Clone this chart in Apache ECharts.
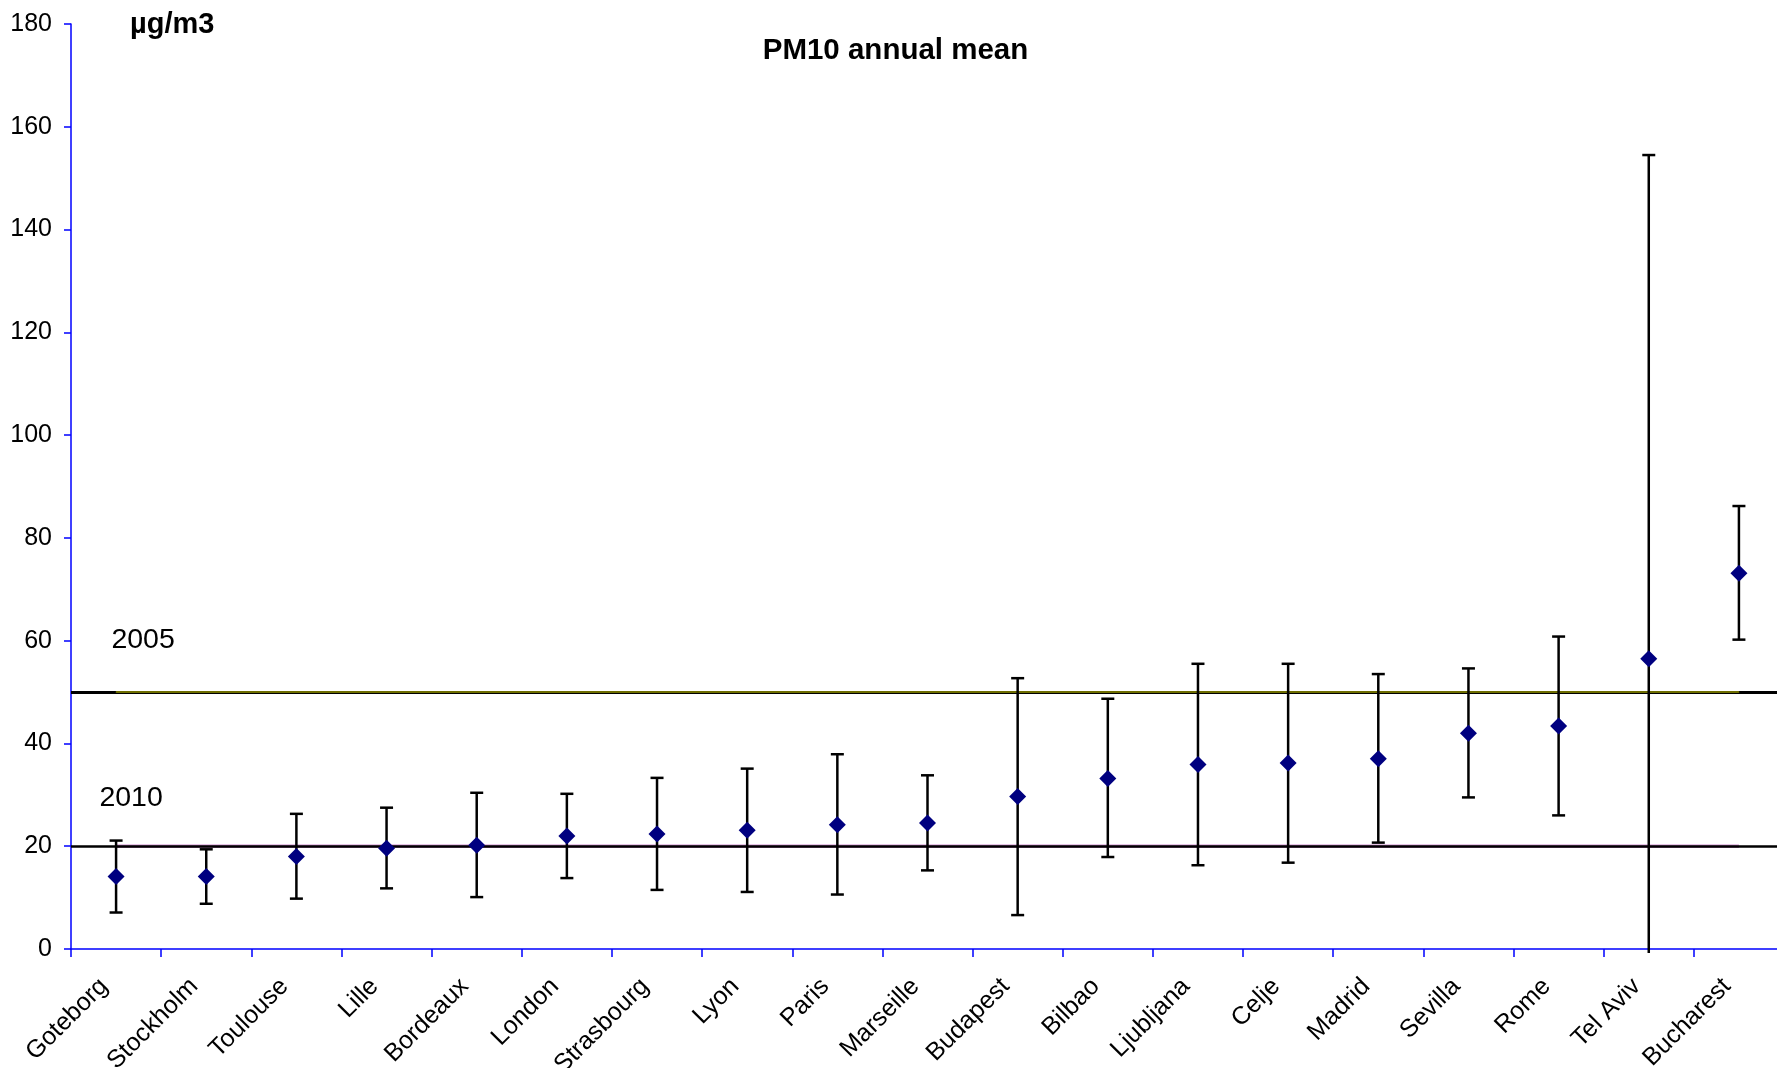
<!DOCTYPE html>
<html>
<head>
<meta charset="utf-8">
<script src="https://cdn.jsdelivr.net/npm/echarts@6/dist/echarts.min.js"></script>
<style>
  html, body { margin: 0; padding: 0; background: #ffffff; overflow: hidden; }
  #chart { width: 1777px; height: 1068px; }
</style>
</head>
<body>
<div id="chart"></div>
<script>
// PM10 annual mean per city (µg/m3): mean with min / max across stations
const cities = ['Goteborg', 'Stockholm', 'Toulouse', 'Lille', 'Bordeaux', 'London', 'Strasbourg',
  'Lyon', 'Paris', 'Marseille', 'Budapest', 'Bilbao', 'Ljubljana', 'Celje', 'Madrid',
  'Sevilla', 'Rome', 'Tel Aviv', 'Bucharest'];
const means = [14.1, 14.1, 18.0, 19.6, 20.2, 22.0, 22.4, 23.1, 24.2, 24.5, 29.7, 33.2, 35.9, 36.2, 37.0, 42.0, 43.4, 56.5, 73.1];
const lows  = [7.1, 8.8, 9.8, 11.8, 10.1, 13.8, 11.5, 11.1, 10.6, 15.3, 6.6, 17.9, 16.3, 16.8, 20.7, 29.5, 26.0, -0.8, 60.2];
const highs = [21.1, 19.4, 26.3, 27.5, 30.4, 30.2, 33.3, 35.1, 37.9, 33.8, 52.7, 48.7, 55.5, 55.5, 53.5, 54.6, 60.8, 154.5, 86.2];

// EU limit values
const limit2005 = 50;
const limit2010 = 20;

// value axis
const yMin = 0, yMax = 180, yStep = 20;

const FONT = "'Liberation Sans', Arial, sans-serif";

const errorData = cities.map((c, i) => [i, lows[i], highs[i]]);

// limit line drawn between the first and last city, with its year written above the left end
function limitSeries(value, label, color, width, z, labelOffset, labelDist) {
  return {
    type: 'line',
    name: label,
    z: z,
    silent: true,
    symbol: 'circle',
    symbolSize: 1,
    showSymbol: true,
    itemStyle: { color: color },
    lineStyle: { color: color, width: width },
    animation: false,
    data: cities.map((c, i) => i === 0 ? {
      value: value,
      label: {
        show: true, formatter: label, position: 'top',
        distance: labelDist, offset: labelOffset,
        color: '#000', fontFamily: FONT, fontSize: 28.5, lineHeight: 28.5
      }
    } : value)
  };
}

// black rule across the whole plot width
function baseLine(value, width, z) {
  return {
    type: 'line',
    z: z,
    silent: true,
    data: [],
    animation: false,
    markLine: {
      z: z,
      silent: true,
      symbol: ['none', 'none'],
      label: { show: false },
      animation: false,
      lineStyle: { color: '#000', width: width, type: 'solid' },
      data: [{ yAxis: value }]
    }
  };
}

const chart = echarts.init(document.getElementById('chart'), null, { renderer: 'canvas' });

chart.setOption({
  backgroundColor: '#ffffff',
  animation: false,
  title: [
    {
      text: 'PM10 annual mean', left: 895.5, top: 36, textAlign: 'center', padding: 0,
      textStyle: { fontFamily: FONT, fontWeight: 'bold', fontSize: 29.5, color: '#000', lineHeight: 30 }
    },
    {
      text: 'µg/m3', left: 130, top: 10, padding: 0,
      textStyle: { fontFamily: FONT, fontWeight: 'bold', fontSize: 29, color: '#000', lineHeight: 30 }
    }
  ],
  // the plot area runs a little past the right edge of the page
  grid: { left: 71, top: 24, width: 1713, height: 925, containLabel: false, outerBoundsMode: 'none' },
  xAxis: {
    type: 'category',
    data: cities,
    boundaryGap: true,
    axisLine: { show: true, lineStyle: { color: '#0000ff', width: 1.5 } },
    axisTick: { show: true, length: 8, inside: false, alignWithLabel: false, lineStyle: { color: '#0000ff', width: 1.5 } },
    axisLabel: {
      interval: 0, rotate: 45, margin: 21.5, padding: [0, 17, 0, 0],
      color: '#000', fontFamily: FONT, fontSize: 25
    },
    splitLine: { show: false }
  },
  yAxis: {
    type: 'value',
    min: yMin, max: yMax, interval: yStep,
    axisLine: { show: true, lineStyle: { color: '#0000ff', width: 1.5 } },
    axisTick: { show: true, length: 7, inside: false, lineStyle: { color: '#0000ff', width: 1.5 } },
    axisLabel: { margin: 19, color: '#000', fontFamily: FONT, fontSize: 25 },
    splitLine: { show: false }
  },
  series: [
    baseLine(limit2005, 3, 1),
    limitSeries(limit2005, '2005', '#6e6e00', 2, 2, [27, 0], 37.6),
    limitSeries(limit2010, '2010', '#cc88cc', 3.5, 2, [15, 0], 33),
    baseLine(limit2010, 2.5, 3),
    {
      type: 'custom',
      name: 'range',
      z: 4,
      silent: true,
      data: errorData,
      encode: { x: 0, y: [1, 2] },
      renderItem: function (params, api) {
        const idx = api.value(0);
        const lo = api.value(1);
        const hi = api.value(2);
        const pLo = api.coord([idx, lo]);
        const pHi = api.coord([idx, hi]);
        const half = 6.5;
        const style = { stroke: '#000', lineWidth: 2.5, fill: null };
        const children = [
          { type: 'line', shape: { x1: pLo[0], y1: pLo[1], x2: pHi[0], y2: pHi[1] }, style: style },
          { type: 'line', shape: { x1: pHi[0] - half, y1: pHi[1], x2: pHi[0] + half, y2: pHi[1] }, style: style }
        ];
        if (lo >= yMin) {
          children.push({ type: 'line', shape: { x1: pLo[0] - half, y1: pLo[1], x2: pLo[0] + half, y2: pLo[1] }, style: style });
        }
        return { type: 'group', children: children };
      }
    },
    {
      type: 'scatter',
      name: 'mean',
      z: 5,
      symbol: 'diamond',
      symbolSize: [17, 17],
      itemStyle: { color: '#000080', opacity: 1 },
      data: means
    }
  ]
});
</script>
</body>
</html>
